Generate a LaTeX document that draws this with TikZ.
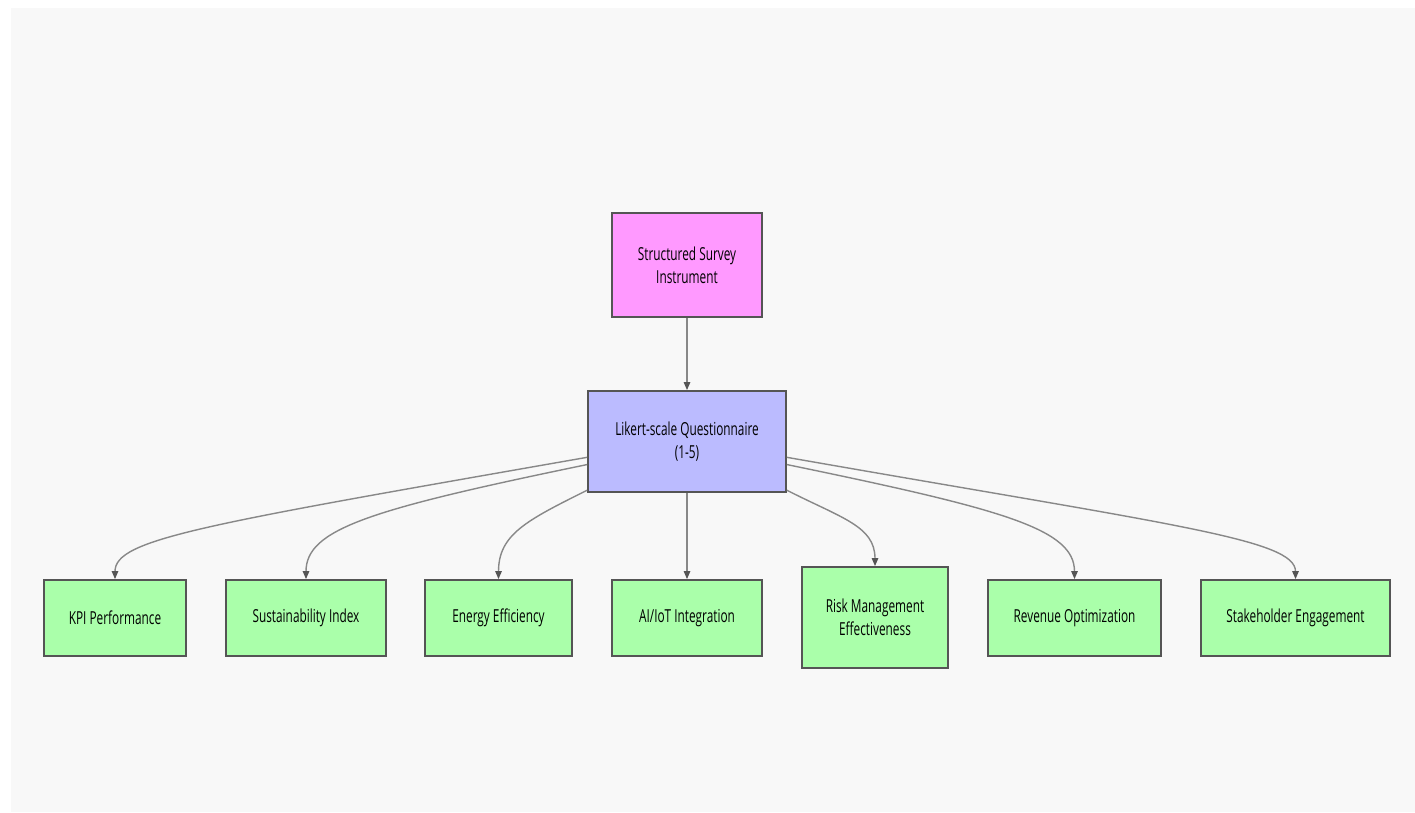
\documentclass[tikz,border=0pt]{standalone}
\usepackage{fontspec}
\setmainfont[FakeStretch=0.66]{Open Sans}
\usetikzlibrary{arrows.meta}
\definecolor{bggrey}{HTML}{F8F8F8}
\definecolor{surveypink}{HTML}{FF99FF}
\definecolor{likertblue}{HTML}{BBBBFF}
\definecolor{leafgreen}{HTML}{AAFFAA}
\definecolor{edgegrey}{HTML}{555555}
\definecolor{linkgrey}{HTML}{888888}

\begin{document}
\begin{tikzpicture}[x=0.02cm,y=-0.02cm,
  box/.style={draw=edgegrey,line width=1pt,align=center,inner sep=0pt,
    font=\fontsize{10.2}{13}\selectfont},
  leaf/.style={box,fill=leafgreen,minimum width=#1*0.02cm,minimum height=76*0.02cm},
  link/.style={draw=linkgrey,line width=0.8pt,
    -{Triangle[length=4.5pt,width=3.6pt,color=edgegrey]}}]
\useasboundingbox (0,0) rectangle (1415,812);
\fill[white] (0,0) rectangle (1415,812);
\fill[bggrey] (11,8) rectangle (1415,812);
% top of the tree
\node[box,fill=surveypink,minimum width=150*0.02cm,minimum height=104*0.02cm]
  (survey) at (687,265) {Structured Survey\\Instrument};
\node[box,fill=likertblue,minimum width=198*0.02cm,minimum height=101*0.02cm]
  (likert) at (687,441.5) {Likert-scale Questionnaire\\(1-5)};
% constructs
\node[leaf=142] (kpi) at (115,618) {KPI Performance};
\node[leaf=160] (sust) at (306,618) {Sustainability Index};
\node[leaf=147] (energy) at (498.5,618) {Energy Efficiency};
\node[leaf=150] (aiiot) at (687,618) {AI/IoT Integration};
\node[leaf=146,minimum height=101*0.02cm] (risk) at (875,617.5) {Risk Management\\Effectiveness};
\node[leaf=173] (revenue) at (1074.5,618) {Revenue Optimization};
\node[leaf=189] (stake) at (1295.5,618) {Stakeholder Engagement};
% links
\draw[link] (survey) -- (likert);
\draw[link] (likert.189) .. controls +(-388,68) and +(0,-40) .. (kpi.north);
\draw[link] (likert.193) .. controls +(-218,45) and +(0,-50) .. (sust.north);
\draw[link] (likert.206) .. controls +(-60,30) and +(0,-45) .. (energy.north);
\draw[link] (likert) -- (aiiot);
\draw[link] (likert.334) .. controls +(55,28) and +(0,-40) .. (risk.north);
\draw[link] (likert.347) .. controls +(218,45) and +(0,-50) .. (revenue.north);
\draw[link] (likert.351) .. controls +(388,68) and +(0,-40) .. (stake.north);
\end{tikzpicture}
\end{document}
